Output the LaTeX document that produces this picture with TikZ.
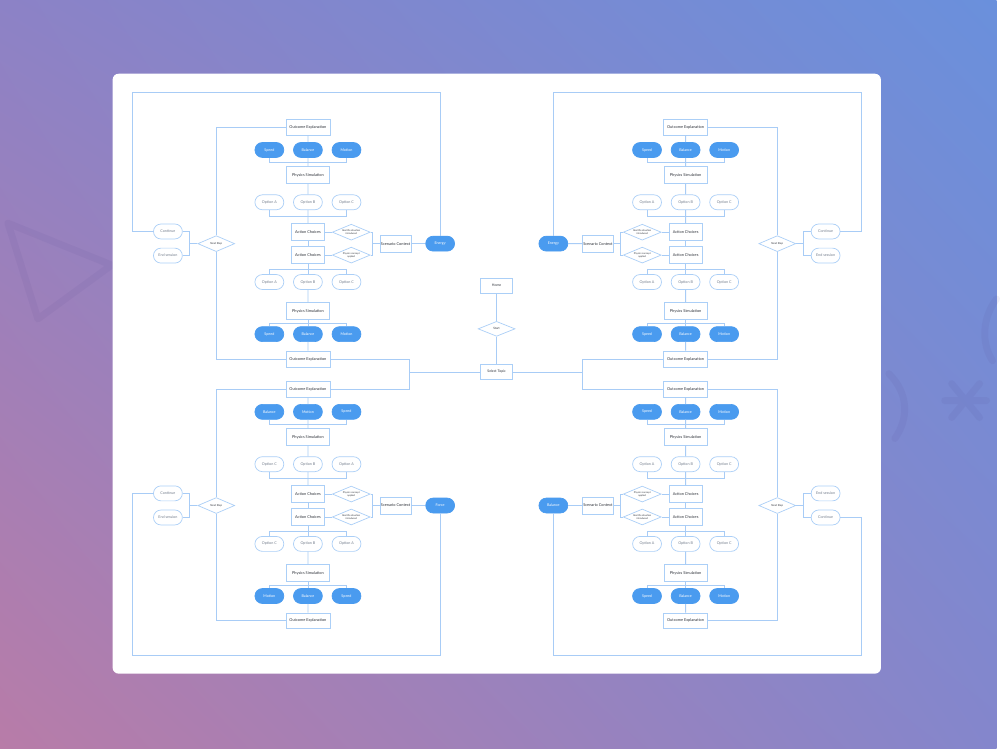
\documentclass[tikz,border=0pt]{standalone}
\usepackage{fontspec}
\setmainfont{Lato}
\usetikzlibrary{shapes.geometric,shapes.misc,calc,shadings}
\definecolor{lnc}{HTML}{A8CCF6}
\definecolor{bdc}{HTML}{ABCFF7}
\definecolor{fic}{HTML}{4A9BEF}
\definecolor{txc}{HTML}{2E323A}
\definecolor{opc}{HTML}{737D8C}
\definecolor{bgTL}{HTML}{8C82C6}
\definecolor{bgTR}{HTML}{6A90DC}
\definecolor{bgBL}{HTML}{B87CA8}
\definecolor{bgBR}{HTML}{8486CC}
\definecolor{deco}{HTML}{4E3F8A}
\newcommand\txtRL{Real life situation\\introduced}
\newcommand\txtPC{Physics concept\\applied}
\begin{document}
\begin{tikzpicture}[x=1pt,y=-1pt,
  box/.style={rectangle, draw=bdc, line width=0.7pt, fill=white, inner sep=0pt, text=txc, font=\fontsize{3.9}{4.5}\selectfont},
  oe/.style={box, minimum width=44pt, minimum height=16pt},
  ps/.style={box, minimum width=43pt, minimum height=17pt},
  ac/.style={box, minimum width=33pt, minimum height=17pt},
  sc/.style={box, minimum width=31pt, minimum height=17pt},
  hb/.style={box, minimum width=32pt, minimum height=15pt, font=\fontsize{3.5}{4}\selectfont},
  pf/.style={rounded rectangle, fill=fic, draw=fic, line width=0.7pt, minimum width=29pt, minimum height=15pt, inner sep=0pt, text=white, font=\fontsize{3.7}{4}\selectfont},
  po/.style={rounded rectangle, fill=white, draw=bdc, line width=0.7pt, minimum width=29pt, minimum height=15pt, inner sep=0pt, text=opc, font=\fontsize{3.7}{4}\selectfont},
  dm/.style={diamond, draw=bdc, fill=white, line width=0.7pt, minimum width=38pt, minimum height=16pt, inner sep=0pt, aspect=2.4, align=center, text=txc, font=\fontsize{2.4}{2.9}\selectfont},
  nsd/.style={dm, minimum width=37pt, font=\fontsize{2.7}{3}\selectfont},
  ln/.style={draw=lnc, line width=0.85pt},
  dec/.style={draw=deco, opacity=0.07, line width=7pt, line cap=round, line join=round}
]
% background
\shade[upper left=bgTL, upper right=bgTR, lower left=bgBL, lower right=bgBR] (0,0) rectangle (1000,751);
\draw[dec] (8,224) -- (112,266) -- (38,320) -- cycle;
\draw[dec] (948,402) -- (990,402) (955,385) -- (983,419) (955,419) -- (983,385);
\draw[dec] (892,375) .. controls (912,395) and (912,420) .. (898,440);
\draw[dec] (1000,300) .. controls (985,320) and (985,345) .. (996,362);
\fill[white, rounded corners=6pt] (113,74) rectangle (884,676);

% quadrants
\foreach \p/\cx/\dy/\s/\fa/\fb/\fc/\oa/\ob/\oc/\da/\db/\ga/\gb/\gc/\en/\na/\nb/\lp/\oy in {
  TL/309/0/1/Speed/Balance/Motion/A/B/C/\txtRL/\txtPC/Speed/Balance/Motion/Energy/Continue/End session/1/92.3,
  TR/688/0/-1/Speed/Balance/Motion/A/B/C/\txtRL/\txtPC/Speed/Balance/Motion/Energy/Continue/End session/1/92.3,
  BL/309/262.8/1/Balance/Motion/Speed/C/B/A/\txtPC/\txtRL/Motion/Balance/Speed/Force/Continue/End session/1/657.3,
  BR/688/262.8/-1/Speed/Balance/Motion/A/B/C/\txtPC/\txtRL/Speed/Balance/Motion/Balance/End session/Continue/2/657.3}
{
  \pgfmathsetmacro\xd{\cx+(\s)*43.5}
  \pgfmathsetmacro\xs{\cx+(\s)*88}
  \pgfmathsetmacro\xe{\cx+(\s)*132.7}
  \pgfmathsetmacro\xn{\cx-(\s)*92}
  \pgfmathsetmacro\xc{\cx-(\s)*140.5}
  \pgfmathsetmacro\xo{\cx-(\s)*176.5}
  \pgfmathsetmacro\kb{-(\s)*23}
  \pgfmathsetmacro\kn{-(\s)*26.5}
  \node[oe] (\p-oe1) at (\cx,127.7+\dy) {Outcome Explanation};
  \node[pf] (\p-fa) at (\cx-38.7,150.5+\dy) {\fa};
  \node[pf] (\p-fb) at (\cx,150.5+\dy) {\fb};
  \node[pf] (\p-fc) at (\cx+38.7,150.5+\dy) {\fc};
  \node[ps] (\p-ps1) at (\cx,175.8+\dy) {Physics Simulation};
  \node[po] (\p-oa) at (\cx-38.7,203+\dy) {Option \oa};
  \node[po] (\p-ob) at (\cx,203+\dy) {Option \ob};
  \node[po] (\p-oc) at (\cx+38.7,203+\dy) {Option \oc};
  \node[ac] (\p-ac1) at (\cx,233+\dy) {Action Choices};
  \node[ac] (\p-ac2) at (\cx,256+\dy) {Action Choices};
  \node[dm] (\p-d1) at (\xd,233+\dy) {\da};
  \node[dm] (\p-d2) at (\xd,256+\dy) {\db};
  \node[sc] (\p-sc) at (\xs,244.5+\dy) {Scenario Context};
  \node[pf] (\p-en) at (\xe,244.5+\dy) {\en};
  \node[po] (\p-o2a) at (\cx-38.7,283+\dy) {Option \oa};
  \node[po] (\p-o2b) at (\cx,283+\dy) {Option \ob};
  \node[po] (\p-o2c) at (\cx+38.7,283+\dy) {Option \oc};
  \node[ps] (\p-ps2) at (\cx,312.3+\dy) {Physics Simulation};
  \node[pf] (\p-ga) at (\cx-38.7,335.3+\dy) {\ga};
  \node[pf] (\p-gb) at (\cx,335.3+\dy) {\gb};
  \node[pf] (\p-gc) at (\cx+38.7,335.3+\dy) {\gc};
  \node[oe] (\p-oe2) at (\cx,360.2+\dy) {Outcome Explanation};
  \node[nsd] (\p-ns) at (\xn,244.5+\dy) {Next Step};
  \node[po] (\p-n1) at (\xc,232.3+\dy) {\na};
  \node[po] (\p-n2) at (\xc,256.5+\dy) {\nb};
  % connectors
  \draw[ln] (\p-oe1) -- (\p-fb);
  \coordinate (\p-k1) at ($(\p-fb.south)!.5!(\p-ps1.north)$);
  \draw[ln] (\p-fa.south) |- (\p-k1) -| (\p-fc.south);
  \draw[ln] (\p-fb) -- (\p-ps1);
  \draw[ln] (\p-ps1) -- (\p-ob);
  \coordinate (\p-k2) at ($(\p-ob.south)!.5!(\p-ac1.north)$);
  \draw[ln] (\p-oa.south) |- (\p-k2) -| (\p-oc.south);
  \draw[ln] (\p-ob) -- (\p-ac1);
  \draw[ln] (\p-ac1) -- (\p-ac2);
  \draw[ln] (\p-ac1) -- (\p-d1);
  \draw[ln] (\p-ac2) -- (\p-d2);
  \coordinate (\p-k3) at ($(\p-sc)+(\kb,0)$);
  \draw[ln] (\p-d1) -| (\p-k3) |- (\p-d2);
  \draw[ln] (\p-k3) -- (\p-sc);
  \draw[ln] (\p-sc) -- (\p-en);
  \coordinate (\p-k4) at ($(\p-ac2.south)!.5!(\p-o2b.north)$);
  \draw[ln] (\p-o2a.north) |- (\p-k4) -| (\p-o2c.north);
  \draw[ln] (\p-ac2) -- (\p-o2b);
  \draw[ln] (\p-o2b) -- (\p-ps2);
  \coordinate (\p-k5) at ($(\p-ps2.south)!.5!(\p-gb.north)$);
  \draw[ln] (\p-ga.north) |- (\p-k5) -| (\p-gc.north);
  \draw[ln] (\p-ps2) -- (\p-gb);
  \draw[ln] (\p-gb) -- (\p-oe2);
  \draw[ln] (\p-oe1) -| (\p-ns);
  \draw[ln] (\p-oe2) -| (\p-ns);
  \coordinate (\p-k6) at ($(\p-ns)+(\kn,0)$);
  \draw[ln] (\p-ns) -- (\p-k6);
  \draw[ln] (\p-n1) -| (\p-k6) |- (\p-n2);
  \coordinate (\p-k7) at (\xo,\oy);
  \draw[ln] (\p-n\lp) -| (\p-k7) -| (\p-en);
}

% center column
\node[hb] (home) at (498.3,286.7) {Home};
\node[dm, minimum width=37pt, minimum height=15pt, font=\fontsize{3}{3.5}\selectfont] (start) at (498.3,330) {Start};
\node[hb] (sel) at (498.3,373.3) {Select Topic};
\draw[ln] (home) -- (start);
\draw[ln] (start) -- (sel);
\coordinate (lj) at (411.3,373.3);
\coordinate (rj) at (584.3,373.3);
\draw[ln] (sel) -- (lj);
\draw[ln] (sel) -- (rj);
\draw[ln] (TL-oe2) -| (lj);
\draw[ln] (BL-oe1) -| (lj);
\draw[ln] (TR-oe2) -| (rj);
\draw[ln] (BR-oe1) -| (rj);
\end{tikzpicture}
\end{document}
